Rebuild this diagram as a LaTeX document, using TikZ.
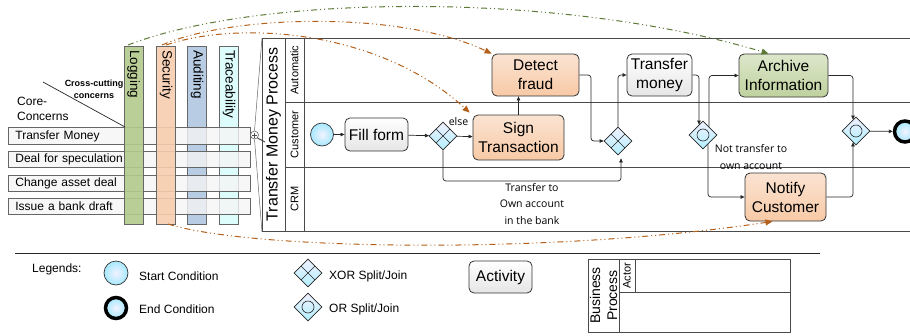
\documentclass[tikz,border=0pt]{standalone}
\usepackage{fontspec}
\setmainfont{Liberation Sans}
\newfontfamily\labfont{Open Sans}
\usetikzlibrary{shapes.geometric,arrows.meta,calc}
\definecolor{logG}{HTML}{B3C98C}
\definecolor{secO}{HTML}{F7CDAE}
\definecolor{audB}{HTML}{B8CCE4}
\definecolor{trcC}{HTML}{DDFCFC}
\definecolor{arrG}{HTML}{5B7A34}
\definecolor{arrO}{HTML}{B4601A}
\definecolor{lineC}{HTML}{4A4A4A}
\begin{document}
\begin{tikzpicture}[x=1pt,y=-1pt,
  actbase/.style={rounded corners=5pt, draw=black!80, line width=0.8pt, align=center, inner sep=0pt,
    font=\fontsize{15.5}{19}\selectfont},
  act/.style={actbase, top color=white, bottom color=black!10},
  actO/.style={actbase, top color=secO!55, bottom color=secO!95!orange},
  actG/.style={actbase, top color=logG!45, bottom color=logG!85},
  gw/.style={diamond, aspect=1, minimum width=28pt, minimum height=28pt, inner sep=0pt, draw=black!85, line width=0.7pt,
    top color=blue!6, bottom color=blue!20!cyan!30},
  xorgw/.style={gw, path picture={\draw[line width=0.6pt]
      ($(path picture bounding box.north west)!0.25!(path picture bounding box.south east)$) --
      ($(path picture bounding box.north west)!0.75!(path picture bounding box.south east)$);
      \draw[line width=0.6pt]
      ($(path picture bounding box.north east)!0.25!(path picture bounding box.south west)$) --
      ($(path picture bounding box.north east)!0.75!(path picture bounding box.south west)$);}},
  orgw/.style={gw, path picture={\draw[line width=0.6pt] (path picture bounding box.center) circle (6pt);}},
  startev/.style={circle, draw=black!80, line width=0.7pt, inner sep=0pt, inner color=blue!5, outer color=blue!25!cyan!35},
  endev/.style={circle, draw=black, line width=3.5pt, inner sep=0pt, inner color=blue!5, outer color=blue!25!cyan!35},
  flow/.style={-{Triangle[length=4pt,width=3.5pt]}, line width=0.7pt, draw=black!85, rounded corners=3pt},
  ccarrow/.style={-{Triangle[length=7pt,width=6pt]}, line width=1pt,
    dash pattern=on 6pt off 3pt on 1pt off 3pt on 1pt off 3pt},
  vbar/.style={draw=black!60, line width=0.8pt, inner sep=0pt, minimum width=19pt, minimum height=178pt},
  vlab/.style={rotate=-90, anchor=west, inner sep=0pt, font=\fontsize{13.5}{16}\selectfont},
  concern/.style={draw=black!60, line width=0.8pt, fill=black!4, fill opacity=0.8, text opacity=1,
    minimum width=242pt, minimum height=16.5pt, inner sep=0pt, anchor=west,
    text width=236pt, align=left, font=\fontsize{12}{14}\selectfont},
  lane/.style={rotate=90, inner sep=0pt, font=\fontsize{11}{13}\selectfont},
  lab/.style={inner sep=0pt, align=center, font=\labfont\fontsize{10.5}{16.5}\selectfont},
  leg/.style={anchor=west, inner sep=0pt, font=\fontsize{12}{14}\selectfont}
]
\useasboundingbox (0,0) rectangle (910,335);

% ---------------- cross-cutting concern bars (behind)
\node[vbar, fill=audB] (aud) at (197,135) {};
\node[vbar, fill=trcC] (trc) at (229,135) {};

% core concerns
\node[concern] (c1) at (8,136) {\hspace{4pt}Transfer Money};
\node[concern] (c2) at (8,159.5) {\hspace{4pt}Deal for speculation};
\node[concern] (c3) at (8,183.5) {\hspace{4pt}Change asset deal};
\node[concern] (c4) at (8,206.5) {\hspace{4pt}Issue a bank draft};

% cross-cutting concern bars (in front)
\node[vbar, fill=logG, fill opacity=0.9] (log) at (133.5,135) {};
\node[vbar, fill=secO, fill opacity=0.9] (sec) at (166,135) {};

\node[vlab] (loglab) at (133.5,50) {Logging};
\node[vlab] (seclab) at (166,50) {Security};
\node[vlab] (audlab) at (197,50) {Auditing};
\node[vlab] (trclab) at (229,50) {Traceability};

\node[anchor=west, align=left, inner sep=0pt, font=\fontsize{12}{15}\selectfont] (core) at (17,108.5) {Core-\\Concerns};
\node[align=center, inner sep=0pt, font=\bfseries\fontsize{9}{12}\selectfont] (cross) at (94,89) {Cross-cutting\\concerns};
\coordinate (d1) at (43,82);
\coordinate (d2) at (125,127);
\draw[line width=0.7pt, black!85] (d1) -- (d2);

% ---------------- pool
\node[draw=lineC, line width=1pt, anchor=north west, minimum width=660pt, minimum height=193pt, inner sep=0pt] (pool) at (262,38) {};
\coordinate (t1) at (285,38); \coordinate (t2) at (285,231);
\coordinate (l1) at (304,38); \coordinate (l2) at (304,231);
\coordinate (h1a) at (285,102); \coordinate (h1b) at (920,102);
\coordinate (h2a) at (285,167); \coordinate (h2b) at (920,167);
\draw[lineC, line width=1pt] (t1) -- (t2) (l1) -- (l2) (h1a) -- (h1b) (h2a) -- (h2b);
\node[rotate=90, inner sep=0pt, font=\fontsize{16}{18}\selectfont] (ptitle) at (273.5,134.5) {Transfer Money Process};
\node[lane] (la) at (294.5,70) {Automatic};
\node[lane] (lc) at (294.5,134.5) {Customer};
\node[lane] (lr) at (294.5,199) {CRM};

% zoom marker
\node[circle, draw=black!60, fill=white, line width=0.6pt, minimum size=8pt, inner sep=0pt] (plus) at (254.5,135) {};
\draw[black!70, line width=0.6pt] ([xshift=-2.5pt]plus.center) -- ([xshift=2.5pt]plus.center)
  ([yshift=-2.5pt]plus.center) -- ([yshift=2.5pt]plus.center);
\coordinate (ph) at (265,142);
\draw[black!70, line width=1pt] (plus.south east) -- (ph);
\draw[black!60, line width=0.5pt] (plus.north) -- (pool.north west) (plus.south) -- (pool.south west);

% ---------------- process nodes
\node[startev, minimum size=23pt] (start) at (322,134.5) {};
\node[act, minimum width=63pt, minimum height=33pt] (fill) at (376.5,134.5) {Fill form};
\node[xorgw] (xor1) at (443,136) {};
\node[actO, minimum width=91pt, minimum height=45pt] (sign) at (518.5,137.5) {Sign\\Transaction};
\node[actO, minimum width=87pt, minimum height=42pt] (detect) at (535.5,75) {Detect\\fraud};
\node[xorgw] (xor2) at (618,141) {};
\node[act, minimum width=65pt, minimum height=42pt] (transfer) at (659.5,75) {Transfer\\money};
\node[orgw] (or1) at (703,135) {};
\node[actG, minimum width=89pt, minimum height=43pt] (archive) at (783.5,75.5) {Archive\\Information};
\node[actO, minimum width=81pt, minimum height=48pt] (notify) at (785.5,197) {Notify\\Customer};
\node[orgw] (or2) at (856,131) {};
\node[endev, minimum size=21pt] (end) at (905,131.5) {};

% flows
\draw[flow] (start) -- (fill);
\draw[flow] (fill) -- (xor1);
\draw[flow] (xor1) -- (sign);
\node[lab] (else) at (458.5,121.5) {else};
\coordinate (b1) at (443,181);
\draw[flow] (xor1.south) -- (b1) -| ([xshift=3pt, yshift=-3pt]xor2.south);
\node[lab] (ownlab) at (532,204) {Transfer to\\Own account\\in the bank};
\draw[flow] (sign.north) -- (sign.north |- detect.south);
\coordinate (b2) at (591,75);
\draw[flow] (detect.east) -- (b2) |- (xor2.west);
\draw[flow] (xor2.north) |- (transfer.west);
\coordinate (b3) at (699,75);
\draw[flow] (transfer.east) -- (b3) -- ([xshift=-4pt, yshift=-4pt]or1.north);
\draw[flow] ([xshift=6pt, yshift=-6pt]or1.north) |- (archive.west);
\draw[flow] ([xshift=5pt, yshift=5pt]or1.south) |- (notify.west);
\node[lab] (notlab) at (751,157) {Not transfer to\\own account};
\draw[flow] (archive.east) -| ([xshift=-3pt, yshift=-3pt]or2.north);
\draw[flow] (notify.east) -| ([xshift=-3pt, yshift=3pt]or2.south);
\draw[flow] (or2) -- (end);

% cross-cutting arrows
\coordinate (g0) at (128,45);
\coordinate (s0) at (162,45);
\coordinate (s1) at (166,45);
\coordinate (s2) at (168,224);
\draw[ccarrow, arrG] (g0) .. controls (260,-6) and (560,-9) .. ([xshift=-15pt]archive.north);
\draw[ccarrow, arrO] (s0) .. controls (230,15) and (400,10) .. (detect.north west);
\draw[ccarrow, arrO] (s1) .. controls (240,20) and (380,30) .. ([xshift=-3pt,yshift=2pt]sign.north west);
\draw[ccarrow, arrO] (s2) .. controls (250,250) and (550,255) .. ([xshift=-13pt]notify.south);

% ---------------- legend
\coordinate (sep1) at (15,253);
\coordinate (sep2) at (820,253);
\draw[black!85, line width=0.9pt] (sep1) -- (sep2);
\node[leg] (legt) at (32,269) {Legends:};
\node[startev, minimum size=24pt] (lstart) at (116,273) {};
\node[leg] (lstartt) at (139,276) {Start Condition};
\node[endev, minimum size=21pt] (lend) at (116,308) {};
\node[leg] (lendt) at (139,309) {End Condition};
\node[xorgw] (lxor) at (308,273) {};
\node[leg] (lxort) at (329,276) {XOR Split/Join};
\node[orgw] (lor) at (308,307) {};
\node[leg] (lort) at (329,309) {OR Split/Join};
\node[act, minimum width=63pt, minimum height=32pt] (lact) at (500.5,277) {Activity};
\node[draw=lineC, line width=0.9pt, anchor=north west, minimum width=202pt, minimum height=73pt, inner sep=0pt] (lbp) at (588,259) {};
\coordinate (v1a) at (619,259); \coordinate (v1b) at (619,332);
\coordinate (v2a) at (635,259); \coordinate (v2b) at (635,292);
\coordinate (hh1) at (619,292); \coordinate (hh2) at (790,292);
\draw[lineC, line width=0.9pt] (v1a) -- (v1b) (v2a) -- (v2b) (hh1) -- (hh2);
\node[rotate=90, align=center, inner sep=0pt, font=\fontsize{14}{17}\selectfont] (lbpt) at (603.5,295.5) {Business\\Process};
\node[lane] (lactor) at (627,275.5) {Actor};
\end{tikzpicture}
\end{document}
